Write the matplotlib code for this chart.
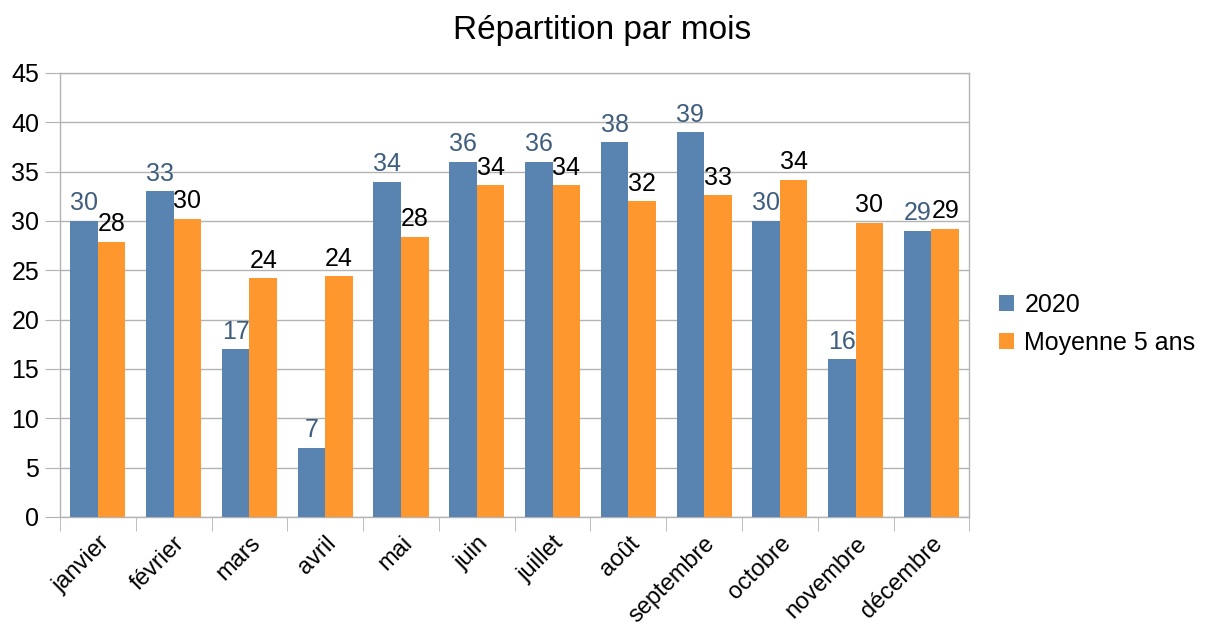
import matplotlib
matplotlib.use("agg")
import matplotlib.pyplot as plt
import numpy as np

mois = ['janvier', 'février', 'mars', 'avril', 'mai', 'juin', 'juillet',
        'août', 'septembre', 'octobre', 'novembre', 'décembre']
v2020 = [30, 33, 17, 7, 34, 36, 36, 38, 39, 30, 16, 29]
moy5 = [27.9, 30.2, 24.2, 24.4, 28.4, 33.6, 33.6, 32.0, 32.6, 34.2, 29.8, 29.2]

plt.rcParams['font.family'] = ['Liberation Sans', 'DejaVu Sans']

blue = '#5983b0'
orange = '#ff972f'
grid = '#b3b3b3'

fig = plt.figure(figsize=(12.05, 6.32), dpi=100)
ax = fig.add_axes([0.0498, 0.182, 0.7546, 0.7025])

x = np.arange(len(mois))
w = 0.364
b1 = ax.bar(x - w / 2, v2020, w, color=blue, label='2020', zorder=3)
b2 = ax.bar(x + w / 2, moy5, w, color=orange, label='Moyenne 5 ans', zorder=3)

for rect, v in zip(b1, v2020):
    ax.annotate(f'{v:.0f}', (rect.get_x() + rect.get_width() / 2, v),
                xytext=(0, 4), textcoords='offset points', ha='center', va='bottom',
                fontsize=18, color='#3f5d7d', zorder=4)
for rect, v in zip(b2, moy5):
    ax.annotate(f'{v:.0f}', (rect.get_x() + rect.get_width() / 2, v),
                xytext=(0, 4), textcoords='offset points', ha='center', va='bottom',
                fontsize=18, color='black', zorder=4)

ax.set_xlim(-0.5, len(mois) - 0.5)
ax.set_ylim(0, 45)
ax.set_yticks(range(0, 46, 5))
ax.yaxis.grid(True, color=grid, linewidth=1, zorder=0)
ax.tick_params(axis='y', length=11, color=grid, labelsize=18, pad=4)

ax.set_xticks(x)
ax.set_xticklabels(mois, rotation=45, ha='right', rotation_mode='anchor', fontsize=17)
ax.tick_params(axis='x', which='major', length=0, pad=11)
ax.set_xticks(np.arange(-0.5, len(mois), 1), minor=True)
ax.tick_params(axis='x', which='minor', length=10, color=grid)

for s in ax.spines.values():
    s.set_color(grid)
    s.set_linewidth(1)

fig.suptitle('Répartition par mois', fontsize=24, x=0.5, y=1 - 30 / 632, va='center')

ax.legend(loc='center left', bbox_to_anchor=(1.022, 0.435), frameon=False,
          fontsize=18, handlelength=0.6, handleheight=0.6, handletextpad=0.4,
          labelspacing=0.55, borderaxespad=0)

fig.savefig('out.png', dpi=100)
